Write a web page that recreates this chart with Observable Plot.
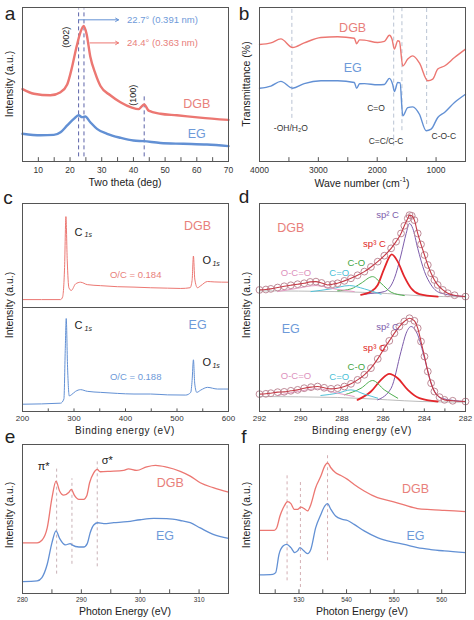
<!DOCTYPE html>
<html><head><meta charset="utf-8">
<script src="https://cdn.jsdelivr.net/npm/d3@7"></script>
<script src="https://cdn.jsdelivr.net/npm/@observablehq/plot@0.6"></script>
<style>
body{margin:0;background:#fff;}
#fig{position:relative;width:474px;height:620px;overflow:hidden;font-family:"Liberation Sans",Arial,sans-serif;color:#222;}
.lbl{position:absolute;white-space:nowrap;transform:translate(-50%,-50%);line-height:1;}
.ylbl{transform:translate(-50%,-50%) rotate(-90deg);}
.letter{font-size:19px;}
.xt{font-size:10.5px;}
</style></head><body><div id="fig"></div>
<script>
// ---------- panel a : XRD ----------
const aTicks = [10,20,30,40,50,60,70], aMinor = [5,15,25,35,45,55,65];
const aDGBx = [5,8.6,13.8,17,19.1,20.6,22,23.3,24.3,25.2,26.4,28,29.6,32.7,35.9,39.5,41.6,43.4,44.8,48.5,53.7,61,70];
const aDGBy = [47,44,43,45,50,61,74,84,88,83,68,57,49,43,38.5,35,34,37,33,31,30,28.5,27];
const aEGx = [5,10.7,14.9,17,19.1,21.2,22.7,23.8,24.8,26.4,28.5,31.7,35.9,40,43.2,48.5,55.8,63.2,70];
const aEGy = [18,17,17.3,19,23.4,27.7,30,28.8,29.2,25.5,21.2,18,15.4,13.6,13.2,12,11.5,11,10];
const aPeakPos = [22.7, 24.4, 43.4];
const aPeakTop = [99, 99, 42];
const aArrowX1 = [22.7, 26.3], aArrowX2 = [35.3, 35.3], aArrowY = [92, 77];
const aArrowText = ["22.7° (0.391 nm)", "24.4° (0.363 nm)"];
const aHkl = ["(002)", "(100)"], aHklX = [18.8, 40], aHklY = [80.7, 43];
// ---------- panel b : FTIR ----------
const bTicks = [4000,3000,2000,1000], bMinor = [3500,2500,1500,500];
const bDGBx = [4000,3807,3637,3438,3240,2956,2672,2389,2350,2300,2219,1992,1878,1793,1748,1708,1651,1623,1566,1481,1396,1283,1141,1056,971,857,687,500];
const bDGBy = [76,77,79.6,74,77,80.5,81,80,76.5,79,78.8,77.3,78,82,79.4,73,78.4,78,62,66.5,68.6,64,52.4,53.5,60,62,67.5,73];
const bEGx = [4000,3807,3637,3438,3240,2956,2672,2389,2350,2300,2219,1992,1878,1793,1737,1708,1651,1612,1566,1481,1396,1283,1169,1084,971,857,687,500];
const bEGy = [47.6,49,52,47.6,50.6,52.4,52.4,51.3,47.5,50.5,50.6,49.8,50,54,50,45.5,51.3,51,29.7,35,35.5,30.7,20,21,28.6,31.8,38.3,43.7];
const bBands = [3450, 1720, 1580, 1160], bBandLow = [28, 10, 20, 24];
const bBandNames = ["-OH/H₂O", "C=O", "C=C/C-C", "C-O-C"];
const bBandTextX = [3467, 2020, 1850, 869], bBandTextY = [21.4, 34.6, 13.4, 16.2];
// ---------- panel c : XPS survey ----------
const cTicks = [200,300,400,500,600], cMinor = [250,350,450,550];
const cDGBx = [200,273.9,277.8,281.7,284.3,286.9,290.1,294.7,303.1,312.8,325.8,351.7,384.1,416.5,448.9,481.4,507.3,525.4,529.3,531.9,534.5,539.7,546.2,559.2,572.1,600];
const cDGBy = [7.6,7.6,10,38.5,87.4,44.8,19,16.4,22.7,24.3,22,21,20,19.6,19,18.6,18.3,19,26,49.5,27.4,19,21,25,24.6,24.3];
const cEGx = [200,273.9,280.4,283,284.9,287.5,290.8,294.7,303.1,312.8,325.8,351.7,384.1,416.5,448.9,481.4,517,526.7,529.3,531.9,534.5,538.4,546.2,559.2,578.6,600];
const cEGy = [7,8,12,58.7,89.4,42.6,15,16,19.4,21,19.4,18.4,17.4,16.8,16.8,16,15.8,18.4,29.7,49.7,26.5,18.4,20.6,23.2,21.6,21.6];
const cElem = ["C", "O"], cElemX = [301, 549.4], cElemDGBy = [72.6, 44.8], cElemEGy = [82.9, 46.8];
const cRatio = ["O/C = 0.184", "O/C = 0.188"], cRatioX = 419.8, cRatioY = [31.5, 32.9];
// ---------- panel d : C1s fits ----------
const dTicks = [292,290,288,286,284,282], dMinor = [291,289,287,285,283];
const dDGBenvX = [292,291.69,291.45,291.12,290.8,290.48,290.15,289.83,289.54,289.26,288.99,288.69,288.45,288.21,287.88,287.56,287.24,286.91,286.59,286.26,285.94,285.61,285.37,285.13,284.97,284.8,284.72,284.61,284.48,284.32,284.16,283.99,283.83,283.67,283.51,283.35,283.1,282.86,282.53,282];
const dDGBenvY = [16.9,17.3,17.9,19.2,20.4,21.4,22.4,23.3,24.6,24.9,23.6,21.7,22.4,23.3,25.6,28.1,31,34.5,39,44.1,49.8,56.9,63.3,71.2,78.6,85.6,88.8,88.2,84,71.2,60.7,50.5,40.9,32.9,26.5,21.7,16.9,13.7,11.8,10.5];
const dDGBsp2X = [286.91,286.59,285.94,285.45,285.13,284.88,284.72,284.56,284.32,283.99,283.67,283.18,282];
const dDGBsp2Y = [12.8,13.5,15.3,28.1,50.5,71.2,80.8,76,56.9,34.5,21.7,13.7,10.5];
const dDGBsp3X = [287.07,286.59,286.26,285.94,285.58,285.29,284.97,284.64,284.24,283.35];
const dDGBsp3Y = [12.1,15.3,21.7,37.7,51.1,44.1,29.7,18.5,12.8,10.5];
const dDGBcoX = [288.21,287.56,287.07,286.51,286.1,285.61,284.97];
const dDGBcoY = [16,17.9,23.3,29.7,23.3,14.7,11.5];
const dDGBcdoX = [289.5,288.53,287.64,286.91,286.1];
const dDGBcdoY = [15.3,17.9,21.1,17.9,12.8];
const dDGBocoX = [291.12,290.15,289.26,288.37,287.4];
const dDGBocoY = [15.3,18.5,21.1,17.9,15.3];
const dDGBbaseX = [292,288.21,285.78,284.16,282];
const dDGBbaseY = [16,15.3,13.4,11.2,10.2];
const dEGenvX = [292,291.69,291.45,291.12,290.8,290.48,290.15,289.83,289.5,289.18,288.86,288.53,288.21,287.88,287.56,287.24,286.91,286.59,286.26,285.94,285.7,285.45,285.21,284.97,284.72,284.48,284.32,284.16,283.99,283.83,283.67,283.51,283.26,283.02,282.62,282];
const dEGenvY = [16.7,17,17.6,18.6,18.9,19.9,20.8,22.4,23.4,24,22.8,21.8,22.4,24,26.6,30.4,35.3,41.7,50.6,60.9,67.9,75.3,81.7,86.5,89.7,87.2,80.1,67.3,52.9,38.5,27.2,19.2,13.8,11.2,10.3,9.6];
const dEGsp2X = [286.26,285.61,285.13,284.88,284.64,284.32,283.99,283.67,283.18,282];
const dEGsp2Y = [11.2,22.4,57.7,75.3,81.7,73.7,51.3,27.2,12.8,9.6];
const dEGsp3X = [287.24,286.59,286.1,285.7,285.29,284.8,284.24,283.35];
const dEGsp3Y = [11.2,19.2,30.4,36.2,32,20.8,12.8,9.6];
const dEGcoX = [287.88,287.07,286.51,285.94,285.29];
const dEGcoY = [16,22.4,29.8,20.8,12.8];
const dEGcdoX = [289.02,288.21,287.56,286.91,286.26];
const dEGcdoY = [15.4,17.6,20.8,16.7,12.8];
const dEGocoX = [291.12,290.15,289.18,288.21,287.4];
const dEGocoY = [15.4,19.2,21.8,17.6,14.4];
const dEGbaseX = [292,288.21,285.78,284.16,282];
const dEGbaseY = [14.4,13.5,11.2,9.6,9];
const dCompNames = ["sp² C", "sp³ C", "C-O", "C=O", "O-C=O"];
const dCompX = [285.78, 286.42, 287.3, 288.13, 290.23];
const dCompDGBy = [88.8, 60.7, 42.5, 33.5, 33.5];
const dCompEGy = [81.7, 60.9, 43.3, 33, 34.6];
// ---------- panel e : C K-edge NEXAFS ----------
const eTicks = [280,290,300,310], eMinor = [285,295,305,315];
const eDGBx = [280,282.5,283.3,284.2,285,285.7,286.3,287,287.9,288.3,288.8,289.6,290.4,290.9,291.4,292.1,292.7,293.2,294.9,297.2,298,299.4,301.1,302.6,304.5,306.8,308.5,310.2,312.4,315];
const eDGBy = [34,34,35.7,44,64,75.4,68.8,66,68,69.9,66,63.2,63.2,65.4,74.3,81,83.3,81.7,82,82.6,83.7,82.6,85,86,84.8,82,78.8,74.3,71,68];
const eEGx = [280,282.5,283.3,284.2,285,285.7,286.3,287.3,288.1,288.4,289.6,290.4,291,291.5,292.1,292.8,293.8,295.5,297.8,300,302.3,304.5,306.8,308.5,310.2,312.4,315];
const eEGy = [8,8.5,10.7,19.6,34,42,37,32.6,33.5,32.6,31.2,31.2,33.5,40.8,46,47.5,46.9,47.5,48.2,49.5,50.4,50.2,49,47.5,44,39.7,37];
const eMarks = [285.8, 288.4, 292.7], eMarkLow = [13, 19.6, 17.9], eMarkHigh = [84, 77, 89];
const eStates = ["π*", "σ*"], eStateX = [283.6, 294.4], eStateY = [85.5, 89];
// ---------- panel f : O K-edge NEXAFS ----------
const fTicks = [530,540,550,560], fMinor = [525,535,545,555];
const fDGBx = [521.7,524.8,525.3,526,526.9,527.6,528.3,529,529.7,530.4,531.1,531.8,532.5,533.5,534.6,535.4,536,536.7,537.7,538.8,540.2,541.6,543.7,546.5,549.3,552.1,554.9,557.7,560.5,565];
const fDGBy = [42.4,42.4,44,52,58.7,61.6,60.3,56.5,56.5,58,57,55.4,59.8,71,78.8,85.5,87.7,84.4,81,79.2,76.6,73.2,68.8,64.3,62,59.4,57,56.3,55.8,55];
const fEGx = [521.7,524.5,525.1,525.8,526.7,527.4,528.3,529.1,529.7,530.2,530.9,531.8,532.5,533.5,534.6,535.4,536,536.7,537.7,539.1,540.2,541.6,543.7,546.5,549.3,552.1,554.9,557.7,560.5,565];
const fEGy = [12.5,12.9,14,26.3,32,33,30.8,27.5,28.6,30.8,29,26.8,29.7,44,53,58.7,60.3,56.5,52,49.8,49,46.4,42,37.5,34.8,33,30.8,29.5,28.6,27.5];
const fMarks = [527.5, 530.3, 536], fMarkLow = [8.5, 4, 22], fMarkHigh = [80, 75, 94];
// ---------- shared labels ----------
const sampleNames = ["DGB", "EG"];

// ================= drawing =================
const RED = "#ec7772", BLUE = "#6290d4", REDT = "#e8807b", BLUET = "#6e9ad9";
const FONT = "'Liberation Sans', Arial, sans-serif";
const fig = document.getElementById("fig");
const pts = (xs, ys) => xs.map((x, i) => ({x, y: ys[i]}));
const YD = [0, 100];

function place(svg, left, top) {
  svg.style.position = "absolute";
  svg.style.left = left + "px";
  svg.style.top = top + "px";
  fig.appendChild(svg);
}
function html(text, x, y, cls, style = "") {
  const d = document.createElement("div");
  d.className = "lbl " + cls;
  d.style.left = x + "px"; d.style.top = y + "px";
  d.setAttribute("style", d.getAttribute("style") + ";" + style);
  d.innerHTML = text;
  fig.appendChild(d);
}
function xAxis(major, minor, fs, pad) {
  const tl = YD[0] + 0.025 * (YD[1] - YD[0]);
  return [
    Plot.axisX(major, {tickSize: 0, tickPadding: pad, fontSize: fs, color: "#333", label: null, tickFormat: d => String(d)}),
    Plot.ruleX(major.concat(minor), {y1: YD[0], y2: tl, stroke: "#555"})
  ];
}
function make(opts) {
  return Plot.plot({
    width: opts.width || 237, height: opts.height,
    marginLeft: 22, marginRight: 9, marginTop: opts.mt, marginBottom: opts.mb,
    x: {domain: opts.xd, axis: opts.noAxis ? null : undefined},
    y: {domain: YD, axis: null},
    style: {background: "transparent", overflow: "visible", fontFamily: FONT},
    marks: [...opts.marks, Plot.frame({stroke: "#555"})]
  });
}
const line = (data, stroke, w) => Plot.line(data, {x: "x", y: "y", stroke, strokeWidth: w, curve: "monotone-x"});

// ---- a ----
place(make({height: 192, mt: 7, mb: 31, xd: [5, 70], marks: [
  ...xAxis(aTicks, aMinor, 8.5, 5),
  Plot.ruleX(aPeakPos, {x: d => d, y1: 3, y2: (d, i) => aPeakTop[i], stroke: "#5c63a8", strokeDasharray: "4,3", strokeWidth: 1}),
  line(pts(aDGBx, aDGBy), RED, 2.4),
  line(pts(aEGx, aEGy), BLUE, 2.4),
  Plot.arrow([0, 1], {x1: i => aArrowX1[i], x2: i => aArrowX2[i], y1: i => aArrowY[i], y2: i => aArrowY[i], stroke: i => [BLUE, RED][i], headLength: 5, strokeWidth: 1}),
  Plot.text([0, 1], {x: 38, y: i => aArrowY[i], text: i => aArrowText[i], fill: i => [BLUET, REDT][i], fontSize: 9.5, textAnchor: "start"}),
  Plot.text([0, 1], {x: i => aHklX[i], y: i => aHklY[i], text: i => aHkl[i], rotate: -90, fontSize: 9, fill: "#222"}),
  Plot.text([0, 1], {x: 60, y: i => [37.4, 18][i], text: i => sampleNames[i], fill: i => [REDT, BLUET][i], fontSize: 12.5})
]}), 0, 0);

// ---- b ----
place(make({height: 192, mt: 7, mb: 31, xd: [4000, 500], marks: [
  ...xAxis(bTicks, bMinor, 8.5, 5),
  Plot.ruleX(bBands, {x: d => d, y1: (d, i) => bBandLow[i], y2: 100, stroke: "#b9c3d3", strokeDasharray: "4,3", strokeWidth: 1}),
  line(pts(bDGBx, bDGBy), RED, 1.4),
  line(pts(bEGx, bEGy), BLUE, 1.4),
  Plot.text(bBandNames, {x: (d, i) => bBandTextX[i], y: (d, i) => bBandTextY[i], text: d => d, fontSize: 8.5, fill: "#333"}),
  Plot.text([0, 1], {x: 2417, y: i => [87, 61][i], text: i => sampleNames[i], fill: i => [REDT, BLUET][i], fontSize: 12.5})
]}), 237, 0);

// ---- c ----
function cMarks(xs, ys, col, colT, elemY, ratioY, name, nameY) {
  return [
    line(pts(xs, ys), col, 1),
    Plot.text(cElem, {x: (d, i) => cElemX[i], y: (d, i) => elemY[i], text: d => d, fontSize: 11, textAnchor: "start", fill: "#222"}),
    Plot.text(cElem, {x: (d, i) => cElemX[i], y: (d, i) => elemY[i], text: () => "1s", fontSize: 7, fontStyle: "italic", dx: 10, dy: 3, textAnchor: "start", fill: "#222"}),
    Plot.text([ratioY], {x: cRatioX, y: d => d, text: () => name === "DGB" ? cRatio[0] : cRatio[1], fill: colT, fontSize: 9.5}),
    Plot.text([name], {x: 540, y: nameY, text: d => d, fill: colT, fontSize: 12.5})
  ];
}
place(make({height: 117, mt: 13, mb: 0, xd: [200, 600], noAxis: true,
  marks: cMarks(cDGBx, cDGBy, RED, REDT, cElemDGBy, cRatioY[0], "DGB", 78)}), 0, 190);
place(make({height: 130, mt: 0, mb: 26, xd: [200, 600],
  marks: [...xAxis(cTicks, cMinor, 8, 4), ...cMarks(cEGx, cEGy, BLUE, BLUET, cElemEGy, cRatioY[1], "EG", 82.9)]}), 0, 307);

// ---- d ----
const compCol = ["#7d5cab", "#e3262b", "#4fae4f", "#52c2d8", "#e69ac4"];
const compTextCol = ["#7d5cab", "#e01e24", "#3fa53f", "#49bfd6", "#dd92bd"];
function dMarks(env, comps, base, compY, name, colT) {
  return [
    line(base, "#aaa", 0.8),
    ...comps.map((c, i) => line(c, compCol[i], i === 1 ? 1.8 : 1)),
    Plot.dot(env, {x: "x", y: "y", r: 3.4, stroke: "#bf8b98", strokeWidth: 1, fill: "none"}),
    line(env, "#c43a46", 1.1),
    Plot.text(dCompNames, {x: (d, i) => dCompX[i], y: (d, i) => compY[i], text: d => d, fill: (d, i) => compTextCol[i],
      fontSize: 9.5, fontWeight: (d, i) => (i === 1 || i === 2) ? "bold" : "normal"}),
    Plot.text([name], {x: 290.48, y: name === "DGB" ? 76 : 79.2, text: d => d, fill: colT, fontSize: 12.5})
  ];
}
place(make({height: 117, mt: 13, mb: 0, xd: [292, 282], noAxis: true,
  marks: dMarks(pts(dDGBenvX, dDGBenvY),
    [pts(dDGBsp2X, dDGBsp2Y), pts(dDGBsp3X, dDGBsp3Y), pts(dDGBcoX, dDGBcoY), pts(dDGBcdoX, dDGBcdoY), pts(dDGBocoX, dDGBocoY)],
    pts(dDGBbaseX, dDGBbaseY), dCompDGBy, "DGB", REDT)}), 237, 190);
place(make({height: 130, mt: 0, mb: 26, xd: [292, 282],
  marks: [...xAxis(dTicks, dMinor, 8, 4), ...dMarks(pts(dEGenvX, dEGenvY),
    [pts(dEGsp2X, dEGsp2Y), pts(dEGsp3X, dEGsp3Y), pts(dEGcoX, dEGcoY), pts(dEGcdoX, dEGcdoY), pts(dEGocoX, dEGocoY)],
    pts(dEGbaseX, dEGbaseY), dCompEGy, "EG", BLUET)]}), 237, 307);

// ---- e ----
place(make({height: 183, mt: 7, mb: 27, xd: [280, 315], marks: [
  ...xAxis(eTicks, eMinor, 6.5, 4),
  Plot.ruleX(eMarks, {x: d => d, y1: (d, i) => eMarkLow[i], y2: (d, i) => eMarkHigh[i], stroke: "#c9b1b6", strokeDasharray: "3,3", strokeWidth: 1}),
  line(pts(eDGBx, eDGBy), RED, 1.3),
  line(pts(eEGx, eEGy), BLUE, 1.3),
  Plot.text(eStates, {x: (d, i) => eStateX[i], y: (d, i) => eStateY[i], text: d => d, fontSize: 11, fill: "#222"}),
  Plot.text([0, 1], {x: i => [305.1, 304.2][i], y: i => [74.3, 38.6][i], text: i => sampleNames[i], fill: i => [REDT, BLUET][i], fontSize: 12.5})
]}), 0, 437);

// ---- f ----
place(make({height: 183, mt: 7, mb: 27, xd: [521.7, 565], marks: [
  ...xAxis(fTicks, fMinor, 6.5, 4),
  Plot.ruleX(fMarks, {x: d => d, y1: (d, i) => fMarkLow[i], y2: (d, i) => fMarkHigh[i], stroke: "#d3aeb3", strokeDasharray: "3,3", strokeWidth: 1}),
  line(pts(fDGBx, fDGBy), RED, 1.3),
  line(pts(fEGx, fEGy), BLUE, 1.3),
  Plot.text([0, 1], {x: 554.5, y: i => [70, 38.6][i], text: i => sampleNames[i], fill: i => [REDT, BLUET][i], fontSize: 12.5})
]}), 237, 437);

// ---- text outside the frames ----
[["a", 10, 13], ["b", 244, 13], ["c", 8, 197], ["d", 244, 196], ["e", 10, 436], ["f", 244, 436]]
  .forEach(([t, x, y]) => html(t, x, y, "letter"));
html("Intensity (a.u.)", 9, 84, "ylbl xt");
html("Transmittance (%)", 246, 84, "ylbl xt");
html("Intensity (a.u.)", 9, 305, "ylbl xt");
html("Intensity (a.u.)", 246, 305, "ylbl xt");
html("Intensity (a.u.)", 9, 515, "ylbl xt");
html("Intensity (a.u.)", 246, 515, "ylbl xt");
html("Two theta (deg)", 125, 182, "xt");
html("Wave number (cm<sup style='font-size:7px'>-1</sup>)", 362, 182, "xt");
html("Binding energy (eV)", 125, 431, "xt", "letter-spacing:0.6px;font-size:10px");
html("Binding energy (eV)", 362, 431, "xt", "letter-spacing:0.6px;font-size:10px");
html("Photon Energy (eV)", 125, 611, "xt");
html("Photon Energy (eV)", 362, 611, "xt");
</script></body></html>
